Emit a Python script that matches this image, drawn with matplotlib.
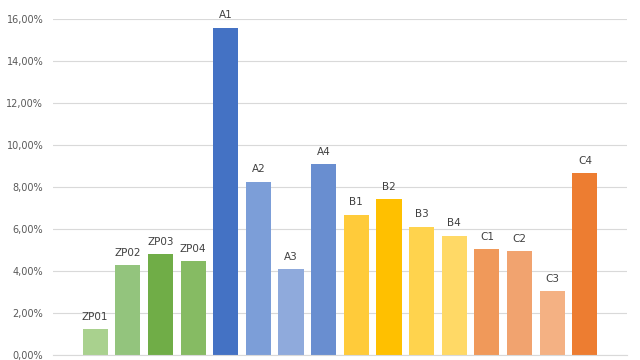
import matplotlib.pyplot as plt
from matplotlib.ticker import FuncFormatter

labels = ["ZP01", "ZP02", "ZP03", "ZP04", "A1", "A2", "A3", "A4",
          "B1", "B2", "B3", "B4", "C1", "C2", "C3", "C4"]
values = [1.2, 4.25, 4.78, 4.45, 15.6, 8.25, 4.08, 9.08,
          6.68, 7.42, 6.1, 5.68, 5.02, 4.92, 3.02, 8.65]
colors = ["#a9d18e", "#93c47d", "#70ad47", "#86bb63",
          "#4472c4", "#7c9ed8", "#8faadc", "#698ed0",
          "#ffcb3a", "#ffc000", "#ffd34d", "#ffd966",
          "#f0995a", "#f1a36f", "#f4b183", "#ed7d31"]
yticks = [0, 2, 4, 6, 8, 10, 12, 14, 16]

fig = plt.figure(figsize=(6.4, 3.6), dpi=100)
ax = fig.add_axes([53 / 640, (360 - 354.5) / 360, 574 / 640, (354.5 - 19.3) / 360])

x = list(range(len(values)))
ax.bar(x, values, width=0.77, color=colors, zorder=2)

for xi, v, lab in zip(x, values, labels):
    ax.text(xi, v + 0.35, lab, ha="center", va="bottom", fontsize=7.5, color="#404040")

ax.set_xlim(-1.29, 16.29)
ax.set_ylim(0, 16)
ax.set_yticks(yticks)
ax.yaxis.set_major_formatter(FuncFormatter(lambda v, p: f"{v:.2f}%".replace(".", ",")))
ax.tick_params(axis="y", length=0, labelsize=7, labelcolor="#595959", pad=7)
ax.set_xticks([])
ax.grid(axis="y", color="#d9d9d9", linewidth=0.8, zorder=0)
for s in ["top", "right", "left"]:
    ax.spines[s].set_visible(False)
ax.spines["bottom"].set_color("#d9d9d9")

fig.savefig("out.png", dpi=100)
